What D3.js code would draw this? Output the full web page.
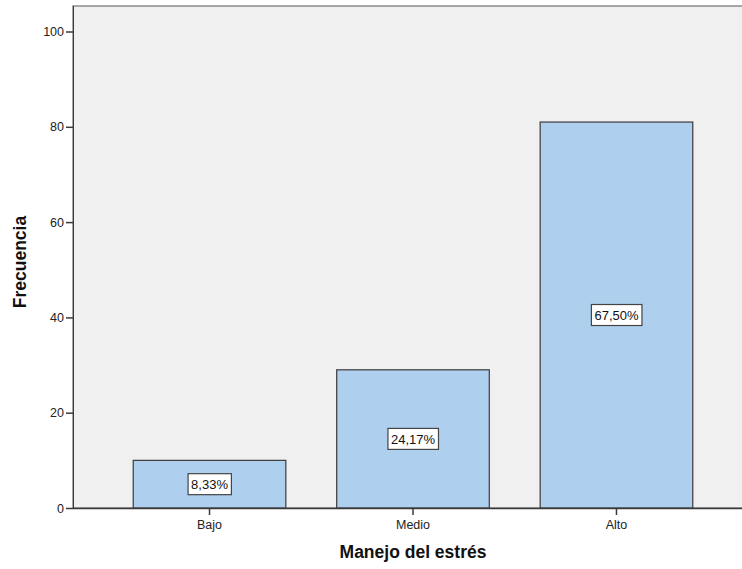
<!DOCTYPE html>
<html>
<head>
<meta charset="utf-8">
<script src="https://cdn.jsdelivr.net/npm/d3@7"></script>
<style>
  body { margin: 0; background: #fff; }
  svg { display: block; font-family: "Liberation Sans", Arial, sans-serif; }
</style>
</head>
<body>
<svg id="chart" width="742" height="569"></svg>
<script>
const categories = ["Bajo", "Medio", "Alto"];
const frequencies = [10, 29, 81];
const percentLabels = ["8,33%", "24,17%", "67,50%"];
const yTicks = [0, 20, 40, 60, 80, 100];
const xTitle = "Manejo del estrés";
const yTitle = "Frecuencia";

const svg = d3.select("#chart");
const mLeft = 73, mTop = 6, mBottom = 508, mRight = 753;

const x = d3.scaleBand().domain(categories).range([mLeft, mRight])
  .paddingInner(0.25).paddingOuter(0.296);
const y = d3.scaleLinear().domain([0, 100]).range([mBottom, 31.5]);

// plot background
svg.append("rect").attr("x", mLeft).attr("y", mTop)
  .attr("width", mRight - mLeft).attr("height", mBottom - mTop)
  .attr("fill", "#f0f0f0").attr("stroke", "#8a8a8a").attr("stroke-width", 1.5);

// bars
const data = categories.map((c, i) => ({c, v: frequencies[i], p: percentLabels[i]}));
svg.selectAll("rect.bar").data(data).enter().append("rect")
  .attr("class", "bar")
  .attr("x", d => x(d.c)).attr("y", d => y(d.v))
  .attr("width", x.bandwidth()).attr("height", d => y(0) - y(d.v))
  .attr("fill", "#aecfee").attr("stroke", "#3a3a3a").attr("stroke-width", 1.2);

// y axis
const yAxis = d3.axisLeft(y).tickValues(yTicks).tickSize(7).tickPadding(2).tickFormat(d3.format("d"));
const gy = svg.append("g").attr("transform", `translate(${mLeft},0)`).call(yAxis);
gy.select(".domain").attr("stroke", "#3a3a3a").attr("d", `M0.5,${mTop}V${mBottom}`);
gy.selectAll(".tick line").attr("stroke", "#3a3a3a").attr("stroke-width", 1.5);
gy.selectAll(".tick text").attr("font-size", 12.5).attr("fill", "#222")
  .attr("font-family", "Liberation Sans, Arial, sans-serif");

// x axis
const xAxis = d3.axisBottom(x).tickSize(7).tickPadding(5);
const gx = svg.append("g").attr("transform", `translate(0,${mBottom})`).call(xAxis);
gx.select(".domain").attr("stroke", "#3a3a3a").attr("stroke-width", 1.5).attr("d", `M${mLeft},0.5H${mRight}`);
gx.selectAll(".tick line").attr("stroke", "#3a3a3a").attr("stroke-width", 1.5);
gx.selectAll(".tick text").attr("font-size", 12.5).attr("fill", "#222")
  .attr("font-family", "Liberation Sans, Arial, sans-serif");

// percent labels
const lab = svg.selectAll("g.lab").data(data).enter().append("g")
  .attr("class", "lab")
  .attr("transform", d => `translate(${x(d.c) + x.bandwidth() / 2},${(y(d.v) + y(0)) / 2})`);
lab.append("text").attr("text-anchor", "middle").attr("dy", "0.36em")
  .attr("font-size", 13).attr("fill", "#111").text(d => d.p)
  .each(function() {
    const b = this.getBBox();
    d3.select(this.parentNode).insert("rect", "text")
      .attr("x", b.x - 3).attr("y", -10.5).attr("width", b.width + 6).attr("height", 21)
      .attr("fill", "#fff").attr("stroke", "#444").attr("stroke-width", 1.2);
  });

// titles
svg.append("text").attr("x", 413).attr("y", 558)
  .attr("text-anchor", "middle").attr("font-weight", "bold").attr("font-size", 17.5)
  .attr("fill", "#111").text(xTitle);
svg.append("text").attr("transform", `translate(26,262) rotate(-90)`)
  .attr("text-anchor", "middle").attr("font-weight", "bold").attr("font-size", 17.5)
  .attr("fill", "#111").text(yTitle);
</script>
</body>
</html>
